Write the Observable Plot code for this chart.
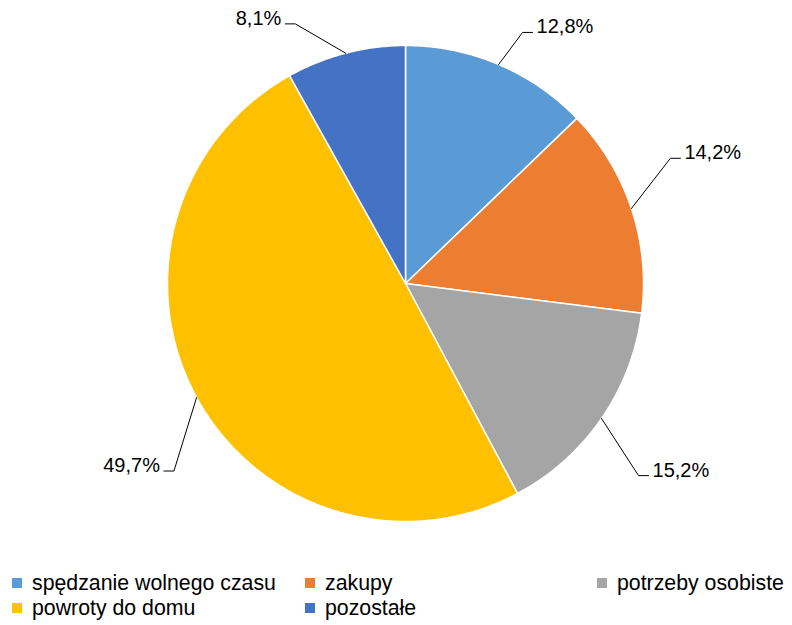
<!DOCTYPE html>
<html><head><meta charset="utf-8">
<script src="https://cdn.jsdelivr.net/npm/d3@7"></script>
<script src="https://cdn.jsdelivr.net/npm/@observablehq/plot@0.6"></script>
<style>
body{margin:0;background:#fff;font-family:"Liberation Sans",Arial,sans-serif;}
#wrap{position:relative;width:792px;height:625px;}
.leg{position:absolute;font-size:21.3px;color:#000;white-space:nowrap;line-height:24px;height:24px;display:flex;align-items:center;}
.leg i{display:inline-block;width:10px;height:10px;margin-right:10px;flex:none;}
</style></head>
<body><div id="wrap"></div>
<script>
const categories = ["spędzanie wolnego czasu","zakupy","potrzeby osobiste","powroty do domu","pozostałe"];
const values = [12.8, 14.2, 15.2, 49.7, 8.1];
const labels = ["12,8%","14,2%","15,2%","49,7%","8,1%"];
const colors = ["#5B9BD5","#ED7D31","#A5A5A5","#FFC000","#4472C4"];
// label elbow layout (angle deg clockwise from top, radius factor)
const elbowAngle = [25, 64.7, 129.5, 231, 337];
const elbowRadius = [1.164, 1.231, 1.269, 1.252, 1.185];

const W = 792, H = 560, R = 238, CX = 405, CY = 283;
const total = d3.sum(values);
const pt = (angDeg, r) => { const a = angDeg*Math.PI/180; return [r*Math.sin(a), r*Math.cos(a)]; };

let acc = 0;
const slices = [], leaders = [], texts = [];
values.forEach((v,i) => {
  const a0 = acc/total*360, a1 = (acc+v)/total*360; acc += v;
  const pts = [[0,0]];
  const n = Math.max(2, Math.ceil((a1-a0)/0.5));
  for (let k=0;k<=n;k++){ pts.push(pt(a0+(a1-a0)*k/n,1)); }
  pts.push([0,0]);
  pts.forEach(p => slices.push({x:p[0], y:p[1], cat:categories[i]}));
  const mid = (a0+a1)/2;
  const e = pt(elbowAngle[i], elbowRadius[i]);
  const right = Math.sin(elbowAngle[i]*Math.PI/180) > 0;
  const tick = 10/R * (right?1:-1);
  const m = pt(mid,1);
  [m, e, [e[0]+tick, e[1]]].forEach(p => leaders.push({x:p[0], y:p[1], id:i}));
  texts.push({x:e[0]+tick, y:e[1], label:labels[i], anchor: right?"start":"end"});
});

const chart = Plot.plot({
  width: W, height: H, margin: 0,
  x: {domain: [-CX/R, (W-CX)/R], range: [0, W], axis: null},
  y: {domain: [CY/R, -(H-CY)/R], range: [0, H], axis: null},
  color: {domain: categories, range: colors},
  style: {fontFamily: '"Liberation Sans", Arial, sans-serif', background: "#fff"},
  marks: [
    Plot.line(slices, {x:"x", y:"y", z:"cat", fill:"cat", stroke:"#fff", strokeWidth:1.5, curve:"linear"}),
    Plot.line(leaders, {x:"x", y:"y", z:"id", stroke:"#000", strokeWidth:1}),
    Plot.text(texts.filter(t=>t.anchor==="start"), {x:"x", y:"y", text:"label", textAnchor:"start", lineAnchor:"bottom", dx:4, dy:1, fontSize:20, fill:"#000"}),
    Plot.text(texts.filter(t=>t.anchor==="end"), {x:"x", y:"y", text:"label", textAnchor:"end", lineAnchor:"bottom", dx:-4, dy:1, fontSize:20, fill:"#000"})
  ]
});
const wrap = document.getElementById("wrap");
wrap.appendChild(chart);
const legPos = [[12,583],[305,583],[597,583],[12,608],[305,608]];
categories.forEach((c,i)=>{
  const d = document.createElement("div");
  d.className="leg"; d.style.left=legPos[i][0]+"px"; d.style.top=(legPos[i][1]-12)+"px";
  d.innerHTML = `<i style="background:${colors[i]}"></i><span>${c}</span>`;
  wrap.appendChild(d);
});
</script></body></html>
